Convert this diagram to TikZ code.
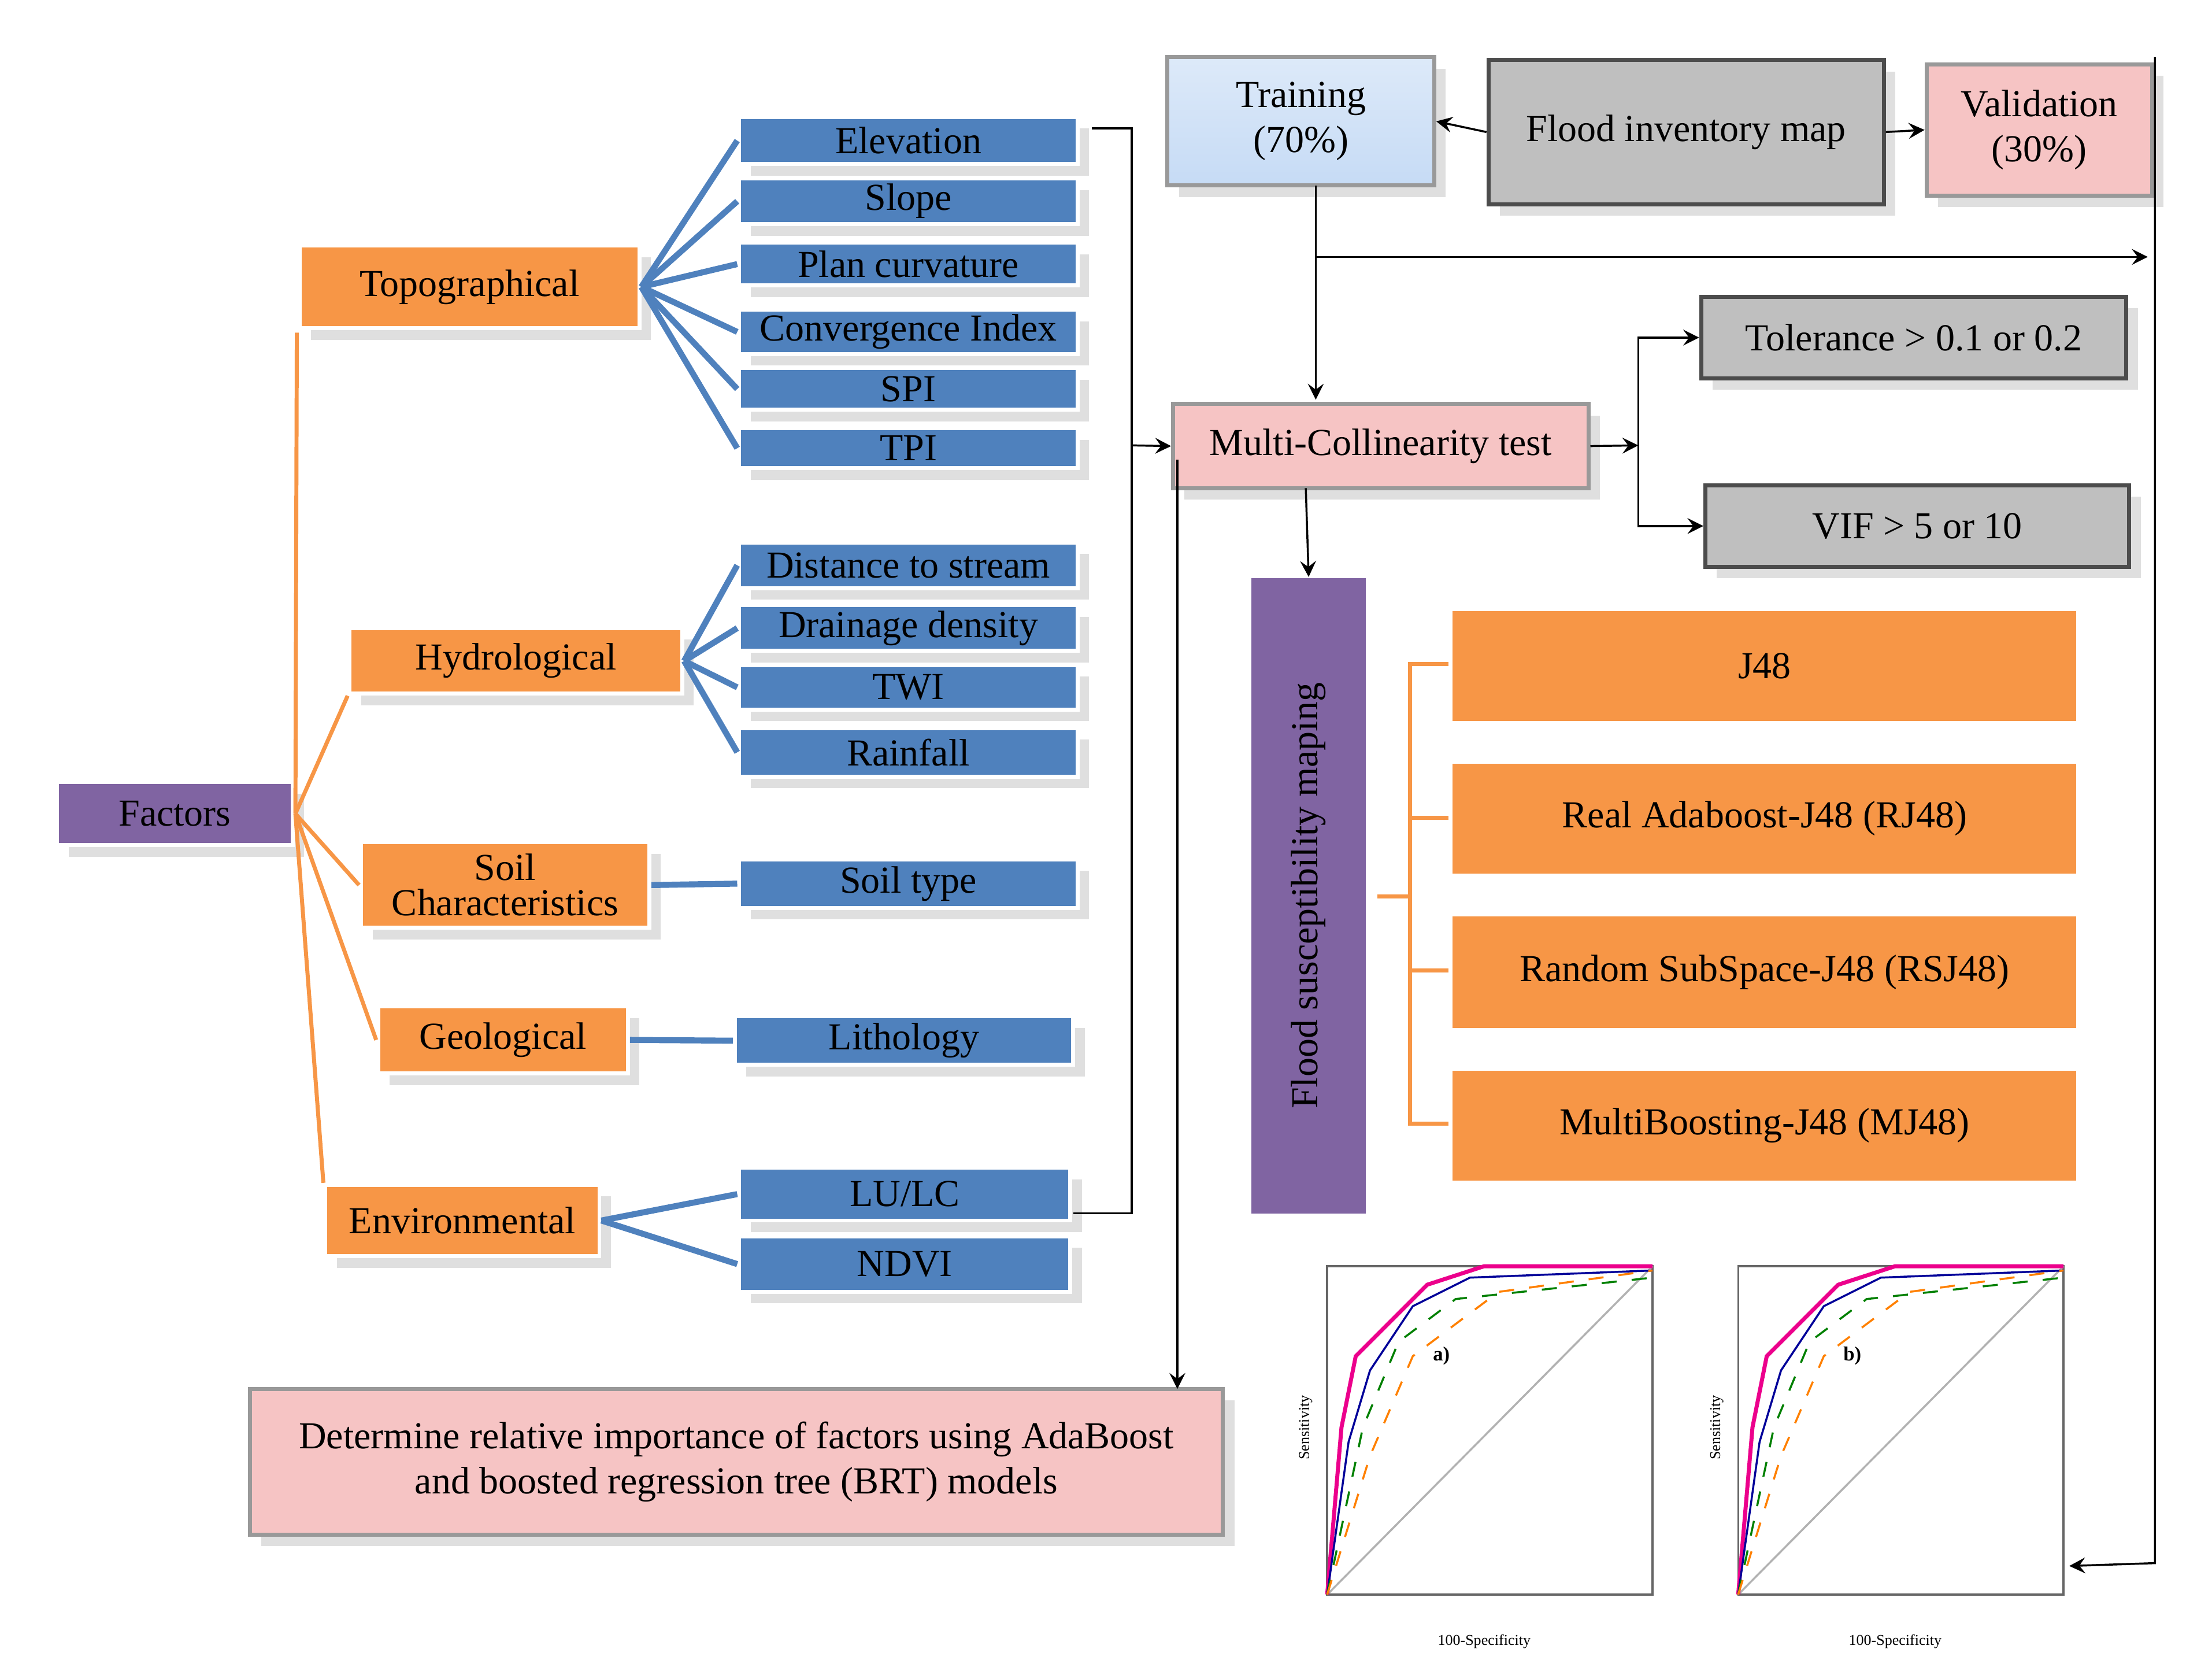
\documentclass[tikz,border=0pt]{standalone}
\usepackage{fontspec}
\setmainfont{Liberation Serif}
\usetikzlibrary{shadows}
\definecolor{naranja}{HTML}{F79646}
\definecolor{azul}{HTML}{4F81BD}
\definecolor{morado}{HTML}{8064A2}
\definecolor{rosa}{HTML}{F6C4C4}
\definecolor{celeste}{HTML}{C6DBF5}
\begin{document}
\begin{tikzpicture}[x=0.01cm,y=-0.01cm,font=\fontsize{7.6}{9}\selectfont]
% estilos de cajas y lineas
\tikzset{
 caja/.style={draw=white,thick,inner sep=0pt,align=center,drop shadow={opacity=0.25}},
 fact/.style={caja,fill=morado},
 cat/.style={caja,fill=naranja},
 var/.style={caja,fill=azul},
 rosa/.style={caja,draw=black!40,fill=rosa},
 gris/.style={caja,draw=black!70,fill=black!25},
 mod/.style={inner sep=0pt,fill=naranja},
 rama/.style={naranja,thick},
 hoja/.style={azul,very thick},
 flecha/.style={->,>=stealth},
}
% definicion caja
% #1: nombre, #2-#5: esquinas x1,y1,x2,y2, #6: estilo, #7: texto
\newcommand{\caja}[7]{
\node[#6,minimum width={(#4-#2)*0.01cm},minimum height={(#5-#3)*0.01cm}]
 (#1) at ({(#2+#4)/2},{(#3+#5)/2}) {#7};
}
\useasboundingbox (0,0) rectangle (1550,1176);
% dibujar factores
\caja{fac}{40}{548}{205}{592}{fact}{Factors}
\caja{topo}{210}{172}{448}{230}{cat}{Topographical}
\caja{hidro}{245}{440}{478}{486}{cat}{Hydrological}
\caja{suelo}{253}{590}{455}{650}{cat}{Soil\\[-2pt]Characteristics}
\caja{geo}{265}{705}{440}{752}{cat}{Geological}
\caja{amb}{228}{830}{420}{880}{cat}{Environmental}
% dibujar variables
\caja{elev}{518}{82}{755}{115}{var}{Elevation}
\caja{pend}{518}{125}{755}{157}{var}{Slope}
\caja{curv}{518}{170}{755}{200}{var}{Plan curvature}
\caja{conv}{518}{217}{755}{248}{var}{Convergence Index}
\caja{spi}{518}{258}{755}{287}{var}{SPI}
\caja{tpi}{518}{300}{755}{328}{var}{TPI}
\caja{dist}{518}{380}{755}{412}{var}{Distance to stream}
\caja{dren}{518}{424}{755}{456}{var}{Drainage density}
\caja{twi}{518}{466}{755}{497}{var}{TWI}
\caja{lluv}{518}{510}{755}{544}{var}{Rainfall}
\caja{tipo}{518}{602}{755}{636}{var}{Soil type}
\caja{lito}{515}{712}{752}{746}{var}{Lithology}
\caja{uso}{518}{818}{750}{855}{var}{LU/LC}
\caja{ndvi}{518}{866}{750}{905}{var}{NDVI}
% ramas
\coordinate (r0) at (207,570);
\draw[rama] (r0) -- (208,233);
\draw[rama] (r0) -- (hidro.south west);
\draw[rama] (r0) -- (suelo.west);
\draw[rama] (r0) -- (geo.west);
\draw[rama] (r0) -- (amb.north west);
\foreach \v in {elev,pend,curv,conv,spi,tpi} \draw[hoja] (topo.east) -- (\v.west);
\foreach \v in {dist,dren,twi,lluv} \draw[hoja] (hidro.east) -- (\v.west);
\draw[hoja] (suelo.east) -- (tipo.west);
\draw[hoja] (geo.east) -- (lito.west);
\foreach \v in {uso,ndvi} \draw[hoja] (amb.east) -- (\v.west);
% cajas del proceso
\caja{ent}{818}{40}{1005}{130}{caja,draw=black!40,top color=celeste!60,bottom color=celeste}{Training\\(70\%)}
\caja{inv}{1043}{42}{1320}{143}{gris}{Flood inventory map}
\caja{val}{1350}{45}{1508}{137}{rosa}{Validation\\(30\%)}
\caja{mct}{822}{283}{1113}{342}{rosa}{Multi-Collinearity test}
\caja{tol}{1192}{208}{1490}{265}{gris}{Tolerance > 0.1 or 0.2}
\caja{vif}{1195}{340}{1492}{397}{gris}{VIF > 5 or 10}
\caja{det}{175}{973}{857}{1075}{rosa}{Determine relative importance of factors using AdaBoost\\and boosted regression tree (BRT) models}
\node[fill=morado,minimum width=0.8cm,minimum height=4.45cm,inner sep=0pt] (fsm) at (917,627.5) {};
\node[rotate=90] at (fsm) {Flood susceptibility maping};
\caja{j48}{1018}{428}{1455}{505}{mod}{J48}
\caja{rj}{1018}{535}{1455}{612}{mod}{Real Adaboost-J48 (RJ48)}
\caja{rsj}{1018}{642}{1455}{720}{mod}{Random SubSpace-J48 (RSJ48)}
\caja{mj}{1018}{750}{1455}{827}{mod}{MultiBoosting-J48 (MJ48)}
% conectores
\draw[flecha] (inv.west) -- (ent.east);
\draw[flecha] (inv.east) -- (val.west);
\draw (765,90) -- (793,90) -- (793,850) -- (752,850);
\draw[flecha] (793,312) -- (mct.west);
\draw[flecha] (922,130) -- (922,280);
\draw[flecha] (922,180) -- (1505,180);
\draw[flecha] (mct.east) -- (1148,312);
\draw[flecha] (1148,312) |- (tol.west);
\draw[flecha] (1148,312) |- (vif.west);
\draw[flecha] (915,342) -- (fsm.north);
\draw[flecha] (825,322) -- (825,973);
\draw[flecha] (1510,40) -- (1510,1095) -- (1450,1097);
\draw[rama] (965,628) -- (988,628);
\draw[rama] (1015,465) -- (988,465) -- (988,787) -- (1015,787);
\draw[rama] (988,573) -- (1015,573);
\draw[rama] (988,680) -- (1015,680);
% curvas ROC
\foreach \px/\et in {900/a),1188/b)} {
\begin{scope}[shift={(\px,0)}]
\draw[black!60] (30,887) rectangle (258,1117);
\draw[black!30] (30,1117) -- (258,887);
\draw[magenta,thick] (30,1117) -- (40,1000) -- (50,950) -- (70,930) -- (100,900) -- (140,887) -- (258,887);
\draw[blue!60!black] (30,1117) -- (45,1010) -- (60,960) -- (90,915) -- (130,895) -- (258,890);
\draw[green!50!black,dashed] (30,1117) -- (55,1000) -- (80,940) -- (120,910) -- (258,895);
\draw[orange,dashed] (30,1117) -- (60,1020) -- (90,950) -- (150,905) -- (258,890);
\node[font=\fontsize{4}{5}\selectfont\bfseries] at (110,950) {\et};
\node[font=\fontsize{3}{4}\selectfont,rotate=90] at (15,1000) {Sensitivity};
\node[font=\fontsize{3}{4}\selectfont] at (140,1150) {100-Specificity};
\end{scope}}
\end{tikzpicture}
\end{document}
